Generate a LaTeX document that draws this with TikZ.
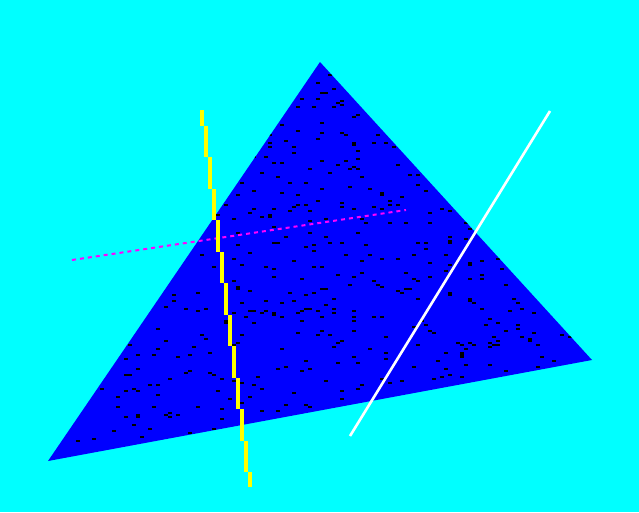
\documentclass[tikz,border=0pt]{standalone}
\definecolor{bgcyan}{RGB}{0,255,255}
\definecolor{triblue}{RGB}{0,0,255}
\definecolor{ylw}{RGB}{255,255,0}
\definecolor{mag}{RGB}{255,0,255}
\tikzset{
  noise/.style={fill=black},
  magline/.style={draw=mag,line width=2pt,dash pattern=on 4pt off 4pt},
  whiteline/.style={draw=white,line width=2.6pt},
  yelbar/.style={fill=ylw}
}
\begin{document}
\begin{tikzpicture}[x=1pt,y=-1pt]
\useasboundingbox (0,0) rectangle (639,512);
\fill[bgcyan] (0,0) rectangle (639,512);
\coordinate (T) at (320,62);
\coordinate (L) at (48,461);
\coordinate (R) at (592,360);
\fill[triblue] (T) -- (L) -- (R) -- cycle;
\begin{scope}
\clip (T) -- (L) -- (R) -- cycle;
\pgfmathsetseed{4711}
\foreach \i in {1,...,390}{
  \pgfmathsetmacro\ra{rnd}
  \pgfmathsetmacro\rb{rnd}
  \pgfmathsetmacro\uu{(\ra+\rb>1) ? (1-\ra) : \ra}
  \pgfmathsetmacro\vv{(\ra+\rb>1) ? (1-\rb) : \rb}
  \pgfmathsetmacro\px{4*floor((320+\uu*(-272)+\vv*272)/4)}
  \pgfmathsetmacro\py{2*floor((62+\uu*399+\vv*298)/2)}
  \fill[noise] (\px,\py) rectangle ++(4,2);
}
\end{scope}
\coordinate (M1) at (72,260);
\coordinate (M2) at (406,210);
\draw[magline] (M1) -- (M2);
\fill[yelbar] (200,110) rectangle (204,126);
\foreach \k in {1,...,11}{
  \fill[yelbar] ({200+4*\k},{126+31.45*(\k-1)}) rectangle ({204+4*\k},{126+31.45*\k});
}
\fill[yelbar] (248,472) rectangle (252,487);
\coordinate (W1) at (550,111);
\coordinate (W2) at (350,436);
\draw[whiteline] (W1) -- (W2);
\end{tikzpicture}
\end{document}
